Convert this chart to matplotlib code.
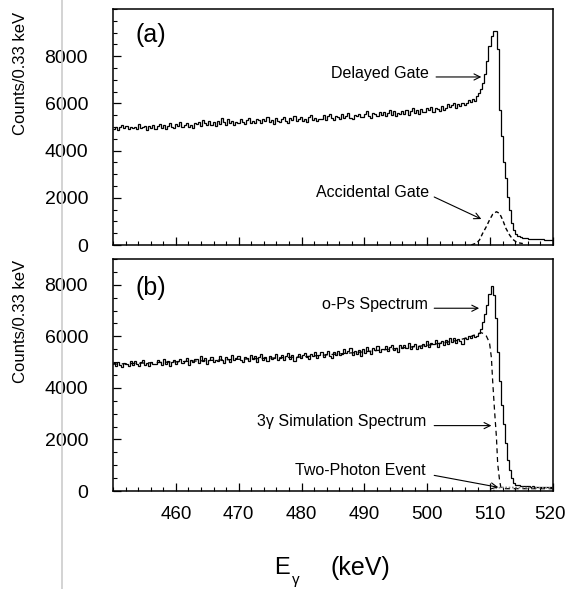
import numpy as np
import matplotlib
matplotlib.use("Agg")
import matplotlib.pyplot as plt
from matplotlib.lines import Line2D
from matplotlib.ticker import MultipleLocator
from matplotlib.transforms import ScaledTranslation

plt.rcParams['font.family'] = ['Liberation Sans', 'DejaVu Sans']

# ---------------- data ----------------
bin_start = 450.0
bin_width = 0.33

delayed_gate = [
    4920, 5020, 4870, 5000, 5070, 4950, 5040, 4900, 4990, 4960,
    5020, 4900, 5110, 4950, 4990, 5060, 4870, 5040, 4960, 5090,
    4930, 5030, 5140, 4960, 5070, 4900, 5050, 5160, 4990, 4940,
    5130, 5030, 5210, 4980, 5100, 5180, 5010, 5090, 4950, 5150,
    5110, 5230, 5040, 5290, 5160, 5070, 5260, 5100, 5200, 5030,
    5270, 5130, 5370, 5210, 5090, 5320, 5160, 5260, 5100, 5230,
    5180, 5340, 5210, 5110, 5290, 5380, 5150, 5260, 5190, 5330,
    5305, 5155, 5355, 5235, 5405, 5195, 5285, 5135, 5365, 5255,
    5220, 5360, 5430, 5260, 5180, 5390, 5300, 5450, 5240, 5330,
    5435, 5265, 5355, 5205, 5415, 5495, 5295, 5385, 5235, 5345,
    5355, 5515, 5285, 5455, 5565, 5375, 5305, 5475, 5415, 5335,
    5540, 5370, 5480, 5590, 5400, 5320, 5520, 5460, 5570, 5420,
    5410, 5570, 5660, 5470, 5390, 5590, 5530, 5450, 5640, 5500,
    5635, 5475, 5585, 5725, 5515, 5665, 5445, 5605, 5535, 5695,
    5570, 5740, 5510, 5670, 5800, 5600, 5710, 5540, 5780, 5630,
    5640, 5790, 5700, 5860, 5620, 5820, 5750, 5670, 5900, 5710,
    5820, 5990, 5850, 5940, 6030, 5790, 5970, 5870, 6010, 5920,
    6000, 6140, 6050, 6170, 6100,
    6300, 6450, 6600, 6850, 7230, 7800, 8450, 8850, 9050, 9050,
    8300, 5700, 4600, 3500, 2850, 2050, 1500, 950, 650, 450, 380, 330,
    300, 290, 280, 270, 260, 265, 250, 250, 240, 245, 235, 230, 225, 220, 215,
]

ops_spectrum = [
    4950, 4850, 5010, 4900, 4810, 4980, 4930, 4840, 5040, 4880,
    5030, 4920, 4830, 5000, 5090, 4890, 4970, 4860, 5020, 4940,
    4925, 5085, 4985, 4875, 5135, 4945, 5035, 4845, 5015, 5065,
    4920, 5050, 5140, 4950, 5030, 5160, 4900, 5080, 4990, 5110,
    5110, 4960, 5230, 5030, 5150, 4940, 5080, 5200, 4990, 5070,
    5050, 5230, 5100, 4970, 5190, 5140, 5020, 5270, 5070, 5170,
    5230, 5080, 5010, 5190, 5150, 5050, 5270, 5110, 5220, 5020,
    5185, 5305, 5065, 5215, 5025, 5255, 5115, 5165, 5325, 5085,
    5165, 5295, 5085, 5235, 5345, 5125, 5265, 5055, 5215, 5305,
    5150, 5270, 5370, 5180, 5110, 5320, 5240, 5400, 5160, 5290,
    5410, 5210, 5330, 5450, 5240, 5170, 5380, 5280, 5420, 5260,
    5305, 5505, 5355, 5435, 5555, 5265, 5415, 5325, 5475, 5245,
    5510, 5370, 5590, 5420, 5330, 5540, 5470, 5620, 5390, 5490,
    5490, 5630, 5420, 5590, 5680, 5460, 5560, 5400, 5650, 5540,
    5680, 5530, 5750, 5490, 5630, 5720, 5510, 5610, 5550, 5700,
    5640, 5810, 5590, 5760, 5700, 5850, 5600, 5730, 5820, 5660,
    5840, 5720, 5920, 5770, 5950, 5740, 5890, 5810, 5700, 5930,
    5880, 6010, 5940, 6040, 5980,
    6000, 6140, 6300, 6550, 6850, 7200, 7650, 7950, 7600, 6700,
    5400, 4250, 3350, 2600, 1850, 1200, 800, 500, 320, 250, 220, 200,
    195, 185, 180, 185, 170, 175, 165, 160, 170, 155, 160, 150, 155, 150, 145,
]

accidental_e = [507.0, 507.6, 508.0, 508.3, 508.8, 509.4, 509.9, 510.4, 511.0,
                511.5, 512.0, 512.5, 513.1, 513.6, 514.1, 514.6, 515.2]
accidental_c = [0, 60, 130, 210, 490, 780, 1060, 1300, 1410,
                1340, 1060, 710, 420, 240, 140, 90, 60]

sim_e = [450, 460, 470, 480, 490, 500, 505, 507, 508.0, 508.6, 509.0, 509.4,
         509.9, 510.2, 510.4, 510.7, 511.0, 511.2, 511.5, 511.7, 512.0, 513.0, 520.0]
sim_c = [4920, 5010, 5110, 5200, 5400, 5650, 5850, 6000, 6100, 6140, 6100, 6010,
         5750, 5170, 4270, 3120, 2090, 1060, 410, 150, 90, 90, 90]

twophoton_e = [510.5, 511.0, 512.0, 515.0, 520.0]
twophoton_c = [0, 120, 140, 130, 120]

xticks = [460, 470, 480, 490, 500, 510, 520]
yticks = [0, 2000, 4000, 6000, 8000]

# ---------------- figure ----------------
W, H = 567, 589
fig = plt.figure(figsize=(W / 100, H / 100), dpi=100)

def fx(px):
    return px / W

def fy(py):
    return 1 - py / H

ax1 = fig.add_axes([fx(113), fy(245), fx(553) - fx(113), fy(9) - fy(245)])
ax2 = fig.add_axes([fx(113), fy(491), fx(553) - fx(113), fy(259) - fy(491)])

edges = bin_start + bin_width * np.arange(len(delayed_gate) + 1)

ax1.stairs(delayed_gate, edges, baseline=None, color='black', lw=0.9)
ax1.plot(accidental_e, accidental_c, color='black', lw=1.0, ls=(0, (3, 2)))

ax2.stairs(ops_spectrum, edges, baseline=None, color='black', lw=0.9)
ax2.plot(sim_e, sim_c, color='black', lw=0.9, ls=(0, (4, 3)))
ax2.plot(twophoton_e, twophoton_c, color='#888888', lw=1.2, ls=(0, (1, 1)))

for ax, ytop in ((ax1, 10000), (ax2, 9000)):
    ax.set_xlim(450, 520)
    ax.set_ylim(0, ytop)
    ax.set_xticks(xticks)
    ax.set_yticks(yticks)
    ax.xaxis.set_minor_locator(MultipleLocator(2))
    ax.yaxis.set_minor_locator(MultipleLocator(500))
    ax.tick_params(which='both', direction='in', top=False, right=False)
    ax.tick_params(which='major', length=5.5, width=0.9)
    ax.tick_params(which='minor', length=2.8, width=0.8)
    ax.tick_params(axis='y', which='major', labelsize=14, pad=18)
    ax.tick_params(axis='x', which='major', labelsize=13.5, pad=11)
    for s in ax.spines.values():
        s.set_linewidth(1.1)

ax1.tick_params(axis='x', labelbottom=False)

# nudge the last x tick label so it stays inside the canvas
last_tick = ax2.xaxis.get_major_ticks()[-1]
last_tick.label1.set_transform(
    last_tick.label1.get_transform() + ScaledTranslation(-0.03, 0, fig.dpi_scale_trans))

# panel labels
ax1.text(453.6, 8900, '(a)', fontsize=18, ha='left', va='center')
ax2.text(453.6, 7865, '(b)', fontsize=18, ha='left', va='center')

arrow = dict(arrowstyle='->', lw=0.8, color='black', mutation_scale=11,
             shrinkA=0, shrinkB=0)

# panel (a) annotations
ax1.text(500.3, 7250, 'Delayed Gate', fontsize=11.5, ha='right', va='center')
ax1.annotate('', xy=(508.6, 7120), xytext=(501.4, 7120), arrowprops=arrow)
ax1.text(500.3, 2245, 'Accidental Gate', fontsize=11.5, ha='right', va='center')
ax1.annotate('', xy=(508.6, 1100), xytext=(501.1, 2034), arrowprops=arrow)

# panel (b) annotations
ax2.text(500.1, 7247, 'o-Ps Spectrum', fontsize=11.5, ha='right', va='center')
ax2.annotate('', xy=(508.25, 7090), xytext=(501.1, 7090), arrowprops=arrow)
ax2.text(499.8, 2691, '3γ Simulation Spectrum', fontsize=11.5, ha='right', va='center')
ax2.annotate('', xy=(510.2, 2537), xytext=(501.1, 2537), arrowprops=arrow)
ax2.text(499.8, 800, 'Two-Photon Event', fontsize=11.5, ha='right', va='center')
ax2.annotate('', xy=(511.3, 143), xytext=(501.1, 606), arrowprops=arrow)

# y labels
fig.text(fx(21), fy(73), 'Counts/0.33 keV', rotation=90, fontsize=12,
         ha='center', va='center')
fig.text(fx(21), fy(321), 'Counts/0.33 keV', rotation=90, fontsize=12,
         ha='center', va='center')

# x label
fig.text(fx(274), fy(568), 'E', fontsize=17, ha='left', va='center')
fig.text(fx(292), fy(580), 'γ', fontsize=11, ha='left', va='center')
fig.text(fx(331), fy(568), '(keV)', fontsize=18, ha='left', va='center')

# faint vertical scan line at left
fig.add_artist(Line2D([fx(62), fx(62)], [0, 1], color='#cccccc', lw=1.2,
                      transform=fig.transFigure))

fig.savefig('out.png', dpi=100)
